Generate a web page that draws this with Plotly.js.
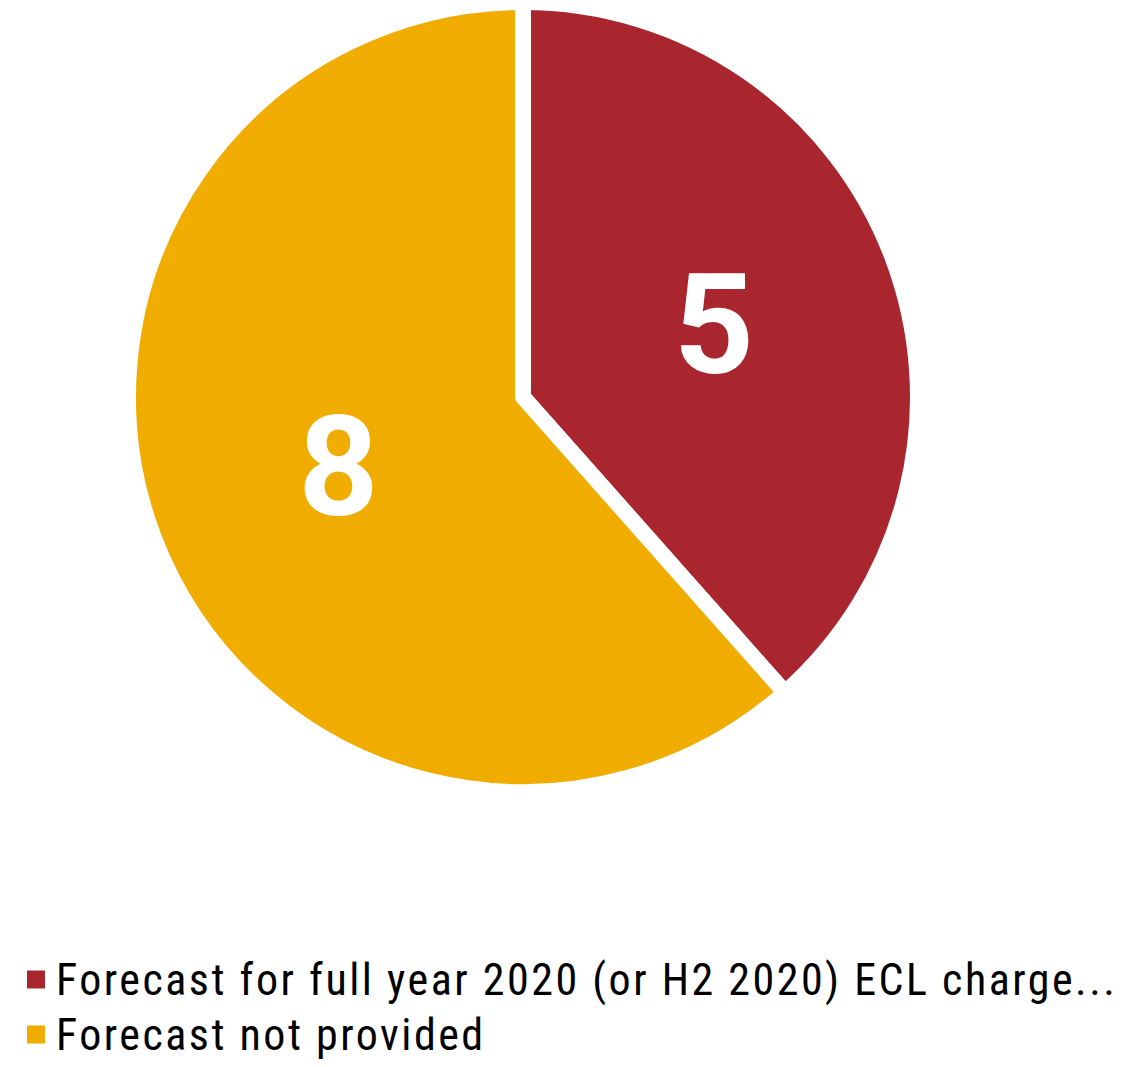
<!DOCTYPE html>
<html>
<head>
<meta charset="utf-8">
<script src="https://cdn.plot.ly/plotly-3.0.1.min.js"></script>
<style>
html,body{margin:0;padding:0;background:#fff;}
#chart{width:1128px;height:1067px;}
#chart .legendtext{letter-spacing:2.5px;font-size:44px !important;}
#chart .legend .scrollbox{clip-path:none !important;}
#chart .legendpoints path{stroke-width:0 !important;d:path("M9,9H-9V-9H9Z");}
</style>
</head>
<body>
<div id="chart"></div>
<script>
const labels = ["Forecast for full year 2020 (or H2 2020) ECL charge...", "Forecast not provided"];
const values = [5, 8];
const colors = ["#A9262F", "#F0AD00"];

const W = 1128, H = 1067;
const pieCx = 523, pieCy = 397, pieR = 395;

const trace = {
  type: 'pie',
  labels: labels,
  values: values,
  sort: false,
  direction: 'clockwise',
  rotation: 0,
  marker: {colors: colors, line: {color: '#ffffff', width: 16}},
  texttemplate: '%{value}',
  textposition: 'inside',
  insidetextorientation: 'horizontal',
  textfont: {family: 'Roboto, sans-serif', size: 140, color: '#ffffff', weight: 'bold'},
  hoverinfo: 'label+value',
  domain: {x: [(pieCx - pieR) / W, (pieCx + pieR) / W], y: [1 - (pieCy + pieR) / H, 1 - (pieCy - pieR) / H]}
};

const layout = {
  width: W, height: H,
  margin: {l: 0, r: 0, t: 0, b: 0},
  paper_bgcolor: '#ffffff',
  plot_bgcolor: '#ffffff',
  showlegend: true,
  legend: {
    x: 16 / W, xanchor: 'left',
    y: 0, yanchor: 'bottom',
    font: {family: 'Roboto Condensed, "Liberation Sans Narrow", Roboto, sans-serif', size: 40, color: '#000000'},
    traceorder: 'normal'
  }
};

Plotly.newPlot('chart', [trace], layout, {displayModeBar: false, staticPlot: true});
</script>
</body>
</html>
